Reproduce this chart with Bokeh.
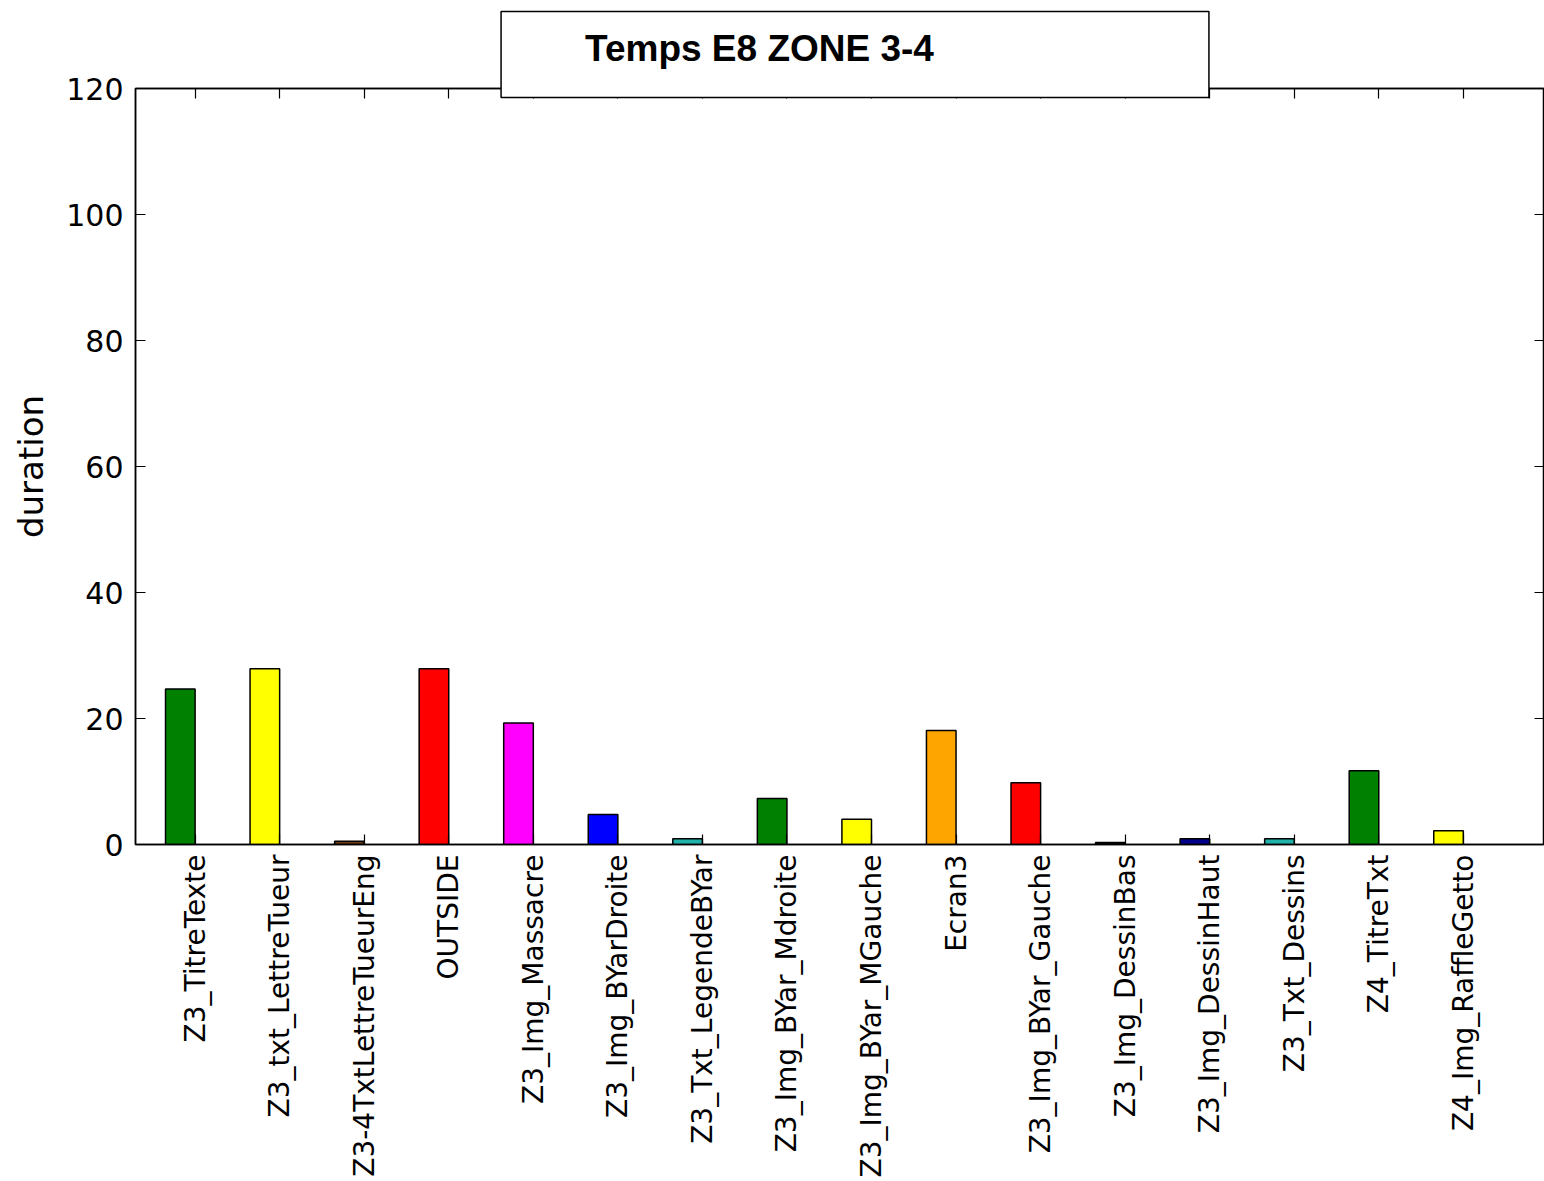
import math
import numpy as np
from bokeh.plotting import figure
from bokeh.models import LinearAxis, FixedTicker, Range1d, Label, ColumnDataSource, CustomJSTickFormatter
from bokeh.embed import file_html
from bokeh.resources import INLINE

categories = ["Z3_TitreTexte", "Z3_txt_LettreTueur", "Z3-4TxtLettreTueurEng", "OUTSIDE",
              "Z3_Img_Massacre", "Z3_Img_BYarDroite", "Z3_Txt_LegendeBYar", "Z3_Img_BYar_Mdroite",
              "Z3_Img_BYar_MGauche", "Ecran3", "Z3_Img_BYar_Gauche", "Z3_Img_DessinBas",
              "Z3_Img_DessinHaut", "Z3_Txt_Dessins", "Z4_TitreTxt", "Z4_Img_RaffleGetto"]
durations = [24.7, 27.9, 0.5, 27.9, 19.3, 4.75, 0.9, 7.3, 4.0, 18.1, 9.8, 0.3, 0.9, 0.9, 11.7, 2.2]
bar_colors = ["#008000", "#FFFF00", "#6B3A10", "#FF0000", "#FF00FF", "#0000FF", "#20B2AA", "#008000",
              "#FFFF00", "#FFA500", "#FF0000", "#000000", "#00008B", "#20B2AA", "#008000", "#FFFF00"]
y_ticks = [0, 20, 40, 60, 80, 100, 120]
title_text = "Temps E8 ZONE 3-4"
y_label = "duration"

W, H = 1544, 1180
bar_w = 0.35
idx = np.arange(len(categories))
tick_pos = [round(i + bar_w, 2) for i in idx]

src = ColumnDataSource(dict(x=idx + bar_w / 2, top=durations, color=bar_colors))

p = figure(width=W, height=H, output_backend="svg", toolbar_location=None,
           x_range=Range1d(-0.355, 16.31), y_range=Range1d(0, 120),
           min_border_left=135, min_border_top=88, min_border_right=0, min_border_bottom=335)
p.background_fill_color = "white"
p.border_fill_color = "white"
p.outline_line_color = "black"
p.outline_line_width = 1.5
p.grid.visible = False

p.vbar(x="x", top="top", width=bar_w, bottom=0, fill_color="color",
       line_color="black", line_width=1.5, source=src)

font = "DejaVu Sans"
blank = CustomJSTickFormatter(code="return ''")

def style_axis(ax, labels=True):
    ax.axis_line_color = "black"
    ax.axis_line_width = 1.5
    ax.major_tick_in = 10
    ax.major_tick_out = 0
    ax.major_tick_line_color = "black"
    ax.major_tick_line_width = 1.2
    ax.minor_tick_line_color = None
    if not labels:
        ax.formatter = blank
        ax.major_label_standoff = 0

# bottom axis
xa = p.xaxis[0]
xa.ticker = FixedTicker(ticks=tick_pos)
xa.major_label_overrides = {t: c for t, c in zip(tick_pos, categories)}
xa.major_label_orientation = math.pi / 2
xa.major_label_text_font = font
xa.major_label_text_font_size = "28px"
xa.major_label_text_color = "black"
xa.major_label_standoff = 10
style_axis(xa)

# left axis
ya = p.yaxis[0]
ya.ticker = FixedTicker(ticks=y_ticks)
ya.major_label_text_font = font
ya.major_label_text_font_size = "30px"
ya.major_label_text_color = "black"
ya.major_label_standoff = 12
ya.axis_label = y_label
ya.axis_label_text_font = font
ya.axis_label_text_font_size = "34px"
ya.axis_label_text_font_style = "normal"
ya.axis_label_text_color = "black"
ya.axis_label_standoff = 12
style_axis(ya)

top_ax = LinearAxis(ticker=FixedTicker(ticks=tick_pos))
style_axis(top_ax, labels=False)
p.add_layout(top_ax, "above")

right_ax = LinearAxis(ticker=FixedTicker(ticks=y_ticks))
style_axis(right_ax, labels=False)
p.add_layout(right_ax, "right")

title = Label(x=854.5, y=54.0, x_units="canvas", y_units="canvas",
              text=title_text, text_align="center", text_baseline="middle",
              text_font="Liberation Sans", text_font_size="37px", text_font_style="bold",
              text_color="black", background_fill_color="white", background_fill_alpha=1.0,
              border_line_color="black", border_line_width=1.5,
              padding=dict(left=84, right=275, top=16, bottom=29))
p.add_layout(title, "above")

open("out.html", "w").write(file_html(p, INLINE))
